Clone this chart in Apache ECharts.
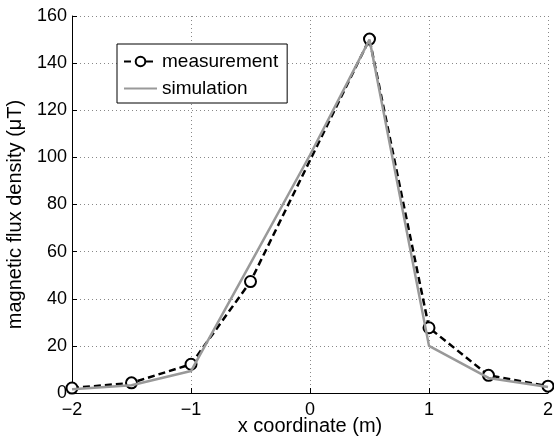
<!DOCTYPE html>
<html>
<head>
<meta charset="utf-8">
<script src="https://cdn.jsdelivr.net/npm/echarts@6/dist/echarts.min.js"></script>
<style>html,body{margin:0;padding:0;background:#fff;}#c{width:554px;height:439px;}</style>
</head>
<body>
<div id="c"></div>
<script>
const xMeas = [-2, -1.5, -1, -0.5, 0.5, 1, 1.5, 2];
const yMeas = [2.1, 4.3, 12.2, 47.3, 150.2, 27.7, 7.5, 2.9];
const xSim = [-2, -1.5, -1, -0.5, 0, 0.5, 1, 1.5, 2];
const ySim = [1.6, 3.3, 9.3, 55, 101, 150, 20, 6.4, 2.5];
const seriesNames = ['measurement', 'simulation'];
const xAxisName = 'x coordinate (m)';
const yAxisName = 'magnetic flux density (\u03bcT)';

const FONT = "'Liberation Sans', Arial, sans-serif";
const chart = echarts.init(document.getElementById('c'), null, {renderer: 'canvas'});
const fmt = v => (v < 0 ? '\u2212' + Math.abs(v) : String(v));
chart.setOption({
  animation: false,
  backgroundColor: '#fff',
  textStyle: {fontFamily: FONT},
  grid: {left: 72, right: 6, top: 16, bottom: 46, containLabel: false, outerBoundsMode: 'none'},
  xAxis: {
    type: 'value', min: -2, max: 2, interval: 1,
    name: xAxisName, nameLocation: 'middle', nameGap: 23, nameMoveOverlap: false,
    nameTextStyle: {fontFamily: FONT, fontSize: 20, color: '#000'},
    axisLine: {show: true, onZero: false, lineStyle: {color: '#000', width: 1}},
    axisTick: {show: true, inside: true, length: 5, lineStyle: {color: '#000'}},
    axisLabel: {formatter: fmt, fontFamily: FONT, fontSize: 18, color: '#000', margin: 8},
    splitLine: {show: true, lineStyle: {color: '#888', type: [1, 3], width: 1}}
  },
  yAxis: {
    type: 'value', min: 0, max: 160, interval: 20,
    name: yAxisName, nameLocation: 'middle', nameGap: 47, nameMoveOverlap: false,
    nameTextStyle: {fontFamily: FONT, fontSize: 20, color: '#000', padding: [0, 20, 0, 0]},
    axisLine: {show: true, onZero: false, lineStyle: {color: '#000', width: 1}},
    axisTick: {show: true, inside: true, length: 5, lineStyle: {color: '#000'}},
    axisLabel: {formatter: fmt, fontFamily: FONT, fontSize: 18, color: '#000', margin: 5},
    splitLine: {show: true, lineStyle: {color: '#888', type: [1, 3], width: 1}}
  },
  legend: {
    orient: 'vertical', left: 117, top: 44,
    backgroundColor: '#fff', borderColor: '#000', borderWidth: 1,
    padding: [8, 9, 5, 6], itemGap: 8, itemWidth: 33, itemHeight: 12,
    textStyle: {fontFamily: FONT, fontSize: 19, color: '#000'},
    data: [
      {name: seriesNames[0]},
      {name: seriesNames[1], itemStyle: {opacity: 0}}
    ]
  },
  series: [
    {
      name: seriesNames[0], type: 'line', z: 2,
      data: xMeas.map((x, i) => [x, yMeas[i]]),
      symbol: 'emptyCircle', symbolSize: 11,
      lineStyle: {color: '#000', width: 2.5, type: [7, 4]},
      itemStyle: {color: '#000', borderColor: '#000', borderWidth: 2.5}
    },
    {
      name: seriesNames[1], type: 'line', z: 3,
      data: xSim.map((x, i) => [x, ySim[i]]),
      symbol: 'none', showSymbol: false,
      lineStyle: {color: '#999', width: 2.5},
      itemStyle: {color: '#999'}
    }
  ]
});
</script>
</body>
</html>
